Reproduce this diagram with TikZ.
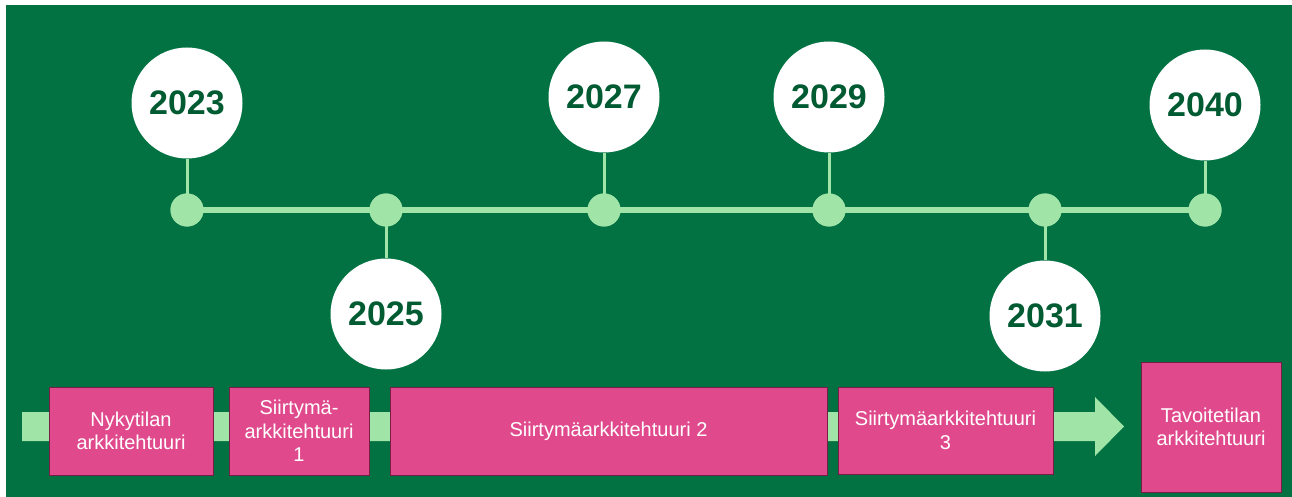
\documentclass[tikz,border=0pt]{standalone}
\usepackage{fontspec}
\setmainfont{Liberation Sans}
\definecolor{bggreen}{RGB}{2,114,66}
\definecolor{lgreen}{RGB}{160,228,168}
\definecolor{dgreen}{RGB}{0,90,50}
\definecolor{pink}{RGB}{224,74,140}
\definecolor{pinkborder}{RGB}{120,30,70}
\begin{document}
\begin{tikzpicture}[x=1pt,y=-1pt,
  year/.style={circle,fill=white,minimum size=111pt,inner sep=0pt,
    text=dgreen,font=\fontsize{34}{40}\selectfont\bfseries},
  dot/.style={circle,fill=lgreen,minimum size=33pt,inner sep=0pt},
  stage/.style={rectangle,fill=pink,draw=pinkborder,line width=1pt,inner sep=0pt,
    text=white,align=center,font=\fontsize{20}{23.5}\selectfont},
  link/.style={draw=lgreen,line width=3pt},
  axis/.style={draw=lgreen,line width=6pt}]
\useasboundingbox (0,0) rectangle (1292,497);
\fill[white] (0,0) rectangle (1292,497);
\fill[bggreen] (6,5) rectangle (1292,497);
% band arrow
\fill[lgreen] (22,412) -- (1095,412) -- (1095,397) -- (1124,426.5) -- (1095,456) -- (1095,441) -- (22,441) -- cycle;
% dots
\node[dot] (d1) at (187,210) {};
\node[dot] (d2) at (386,210) {};
\node[dot] (d3) at (604,210) {};
\node[dot] (d4) at (829,210) {};
\node[dot] (d5) at (1045,210) {};
\node[dot] (d6) at (1205,210) {};
% years
\node[year] (y1) at (187,103) {2023};
\node[year] (y2) at (386,314) {2025};
\node[year] (y3) at (604,97) {2027};
\node[year] (y4) at (829,97) {2029};
\node[year] (y5) at (1045,316) {2031};
\node[year] (y6) at (1205,105) {2040};
\begin{scope}[on background layer/.style={}]
\end{scope}
% axis and links (drawn, then dots redrawn on top)
\draw[axis] (d1.center) -- (d6.center);
\draw[link] (d1.center) -- (y1.south);
\draw[link] (d2.center) -- (y2.north);
\draw[link] (d3.center) -- (y3.south);
\draw[link] (d4.center) -- (y4.south);
\draw[link] (d5.center) -- (y5.north);
\draw[link] (d6.center) -- (y6.south);
\foreach \n in {d1,d2,d3,d4,d5,d6} \fill[lgreen] (\n.center) circle (16.5pt);
% stages
\node[stage,minimum width=164pt,minimum height=88pt] (s1) at (131,431) {Nykytilan\\arkkitehtuuri};
\node[stage,minimum width=140pt,minimum height=88pt] (s2) at (299,431) {Siirtymä-\\arkkitehtuuri\\1};
\node[stage,minimum width=437pt,minimum height=88pt] (s3) at (608.5,431) {Siirtymäarkkitehtuuri 2};
\node[stage,minimum width=215pt,minimum height=87pt] (s4) at (945.5,430.5) {Siirtymäarkkitehtuuri\\3};
\node[stage,minimum width=140pt,minimum height=130pt] (s5) at (1211,427) {Tavoitetilan\\arkkitehtuuri};
\end{tikzpicture}
\end{document}
